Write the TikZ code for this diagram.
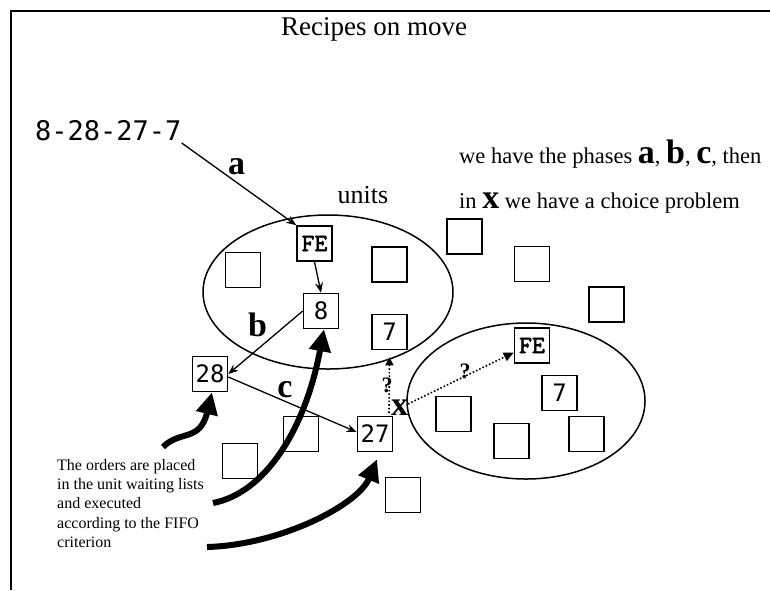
\documentclass[tikz,border=0pt]{standalone}
\usepackage{fontspec}
\setmainfont{Liberation Serif}
\newfontfamily\djmono{DejaVu Sans Mono}
\newfontfamily\fefont{Latin Modern Mono}[FakeBold=2.5]
\usetikzlibrary{arrows.meta,shapes.geometric}
\begin{document}
\begin{tikzpicture}[x=1pt,y=-1pt,
  ubox/.style={draw, line width=1.6pt, minimum size=35pt, inner sep=0pt, font=\djmono\fontsize{24}{24}\selectfont},
  febox/.style={ubox, font=\fefont\fontsize{25}{25}\selectfont},
  unit/.style={draw, ellipse, line width=1.5pt, inner sep=0pt},
  thinarr/.style={line width=1.3pt, -{Stealth[length=10pt,width=8pt]}},
  dotarr/.style={dash pattern=on 1.6pt off 2pt, line width=1.6pt, -{Triangle[length=10pt,width=9pt]}},
  bigarr/.style={line width=6pt, -{Triangle[length=22pt,width=21pt]}},
  lbl/.style={font=\bfseries\fontsize{34}{34}\selectfont, inner sep=0pt, anchor=base},
  qlbl/.style={font=\bfseries\fontsize{22}{22}\selectfont, inner sep=0pt, anchor=base},
  txt/.style={font=\fontsize{22.5}{27}\selectfont, inner sep=0pt, anchor=base west},
]
\useasboundingbox (0,0) rectangle (770,590);
\draw[line width=2.2pt] (11,590) -- (11,11) -- (770,11);

% title and texts
\node[font=\fontsize{27}{30}\selectfont, inner sep=0pt, anchor=base] (title) at (374,35) {Recipes on move};
\node[font=\djmono\fontsize{27}{27}\selectfont, inner sep=0pt, anchor=base west] (seq) at (35,140) {8-28-27-7};
\node[font=\fontsize{26}{30}\selectfont, inner sep=0pt, anchor=base] (units) at (363,203) {units};
\node[txt] (t1) at (459,163) {we have the phases {\fontsize{34}{34}\selectfont\bfseries a}, {\fontsize{34}{34}\selectfont\bfseries b}, {\fontsize{34}{34}\selectfont\bfseries c}, then};
\node[txt] (t2) at (459,208) {in {\fontsize{34}{34}\selectfont\bfseries x} we have a choice problem};
\node[font=\fontsize{16}{19.3}\selectfont, inner sep=0pt, anchor=north west, align=left] (note) at (57,459)
  {The orders are placed\\in the unit waiting lists\\and executed\\according to the FIFO\\criterion};

% units (ellipses)
\node[unit, minimum width=250pt, minimum height=154pt] (u1) at (328,292) {};
\node[unit, minimum width=238pt, minimum height=156pt] (u2) at (526,401) {};

% boxes
\node[febox] (fe1) at (314.5,243.5) {FE};
\node[ubox] (e1) at (243,270) {};
\node[ubox] (e2) at (389.5,264.5) {};
\node[ubox] (n8) at (321,311) {8};
\node[ubox] (n7a) at (389.5,332) {7};
\node[ubox] (n28) at (210,374) {28};
\node[ubox] (n27) at (375,434) {27};
\node[ubox] (e3) at (301,434) {};
\node[ubox] (e4) at (240,461) {};
\node[ubox] (e5) at (403,495) {};
\node[ubox] (e6) at (464.5,236.5) {};
\node[ubox] (e7) at (532,264) {};
\node[ubox] (e8) at (606.5,304.5) {};
\node[febox] (fe2) at (532,345.5) {FE};
\node[ubox] (n7b) at (559.5,393) {7};
\node[ubox] (e9) at (453.5,414) {};
\node[ubox] (e10) at (511.5,441) {};
\node[ubox] (e11) at (586.5,434) {};

% labels
\node[lbl] (la) at (236.5,174) {a};
\node[lbl] (lb) at (257.5,336) {b};
\node[lbl] (lc) at (285,397) {c};
\node[lbl] (lx) at (399.5,415) {x};
\node[qlbl] (q1) at (387,392) {?};
\node[qlbl] (q2) at (465,378) {?};

% thin arrows
\draw[thinarr] ([yshift=-3pt]seq.base east) -- (fe1.north west);
\draw[thinarr] (fe1.south) -- (n8.north);
\draw[thinarr] (n8.west) -- (n28.east);
\draw[thinarr] ([yshift=-3pt]n28.east) -- ([yshift=2pt]n27.west);

% dotted choice arrows
\coordinate (xv) at (389,413);
\coordinate (xd) at (408,404);
\draw[dotarr, -{Triangle[length=8pt,width=8pt]}] (xv) -- ([yshift=-7pt]n7a.south);
\draw[dotarr] (xd) -- ([yshift=-7pt]fe2.west);

% thick arrows
\coordinate (s1) at (163,447);
\coordinate (s2) at (213,503);
\coordinate (s3) at (207,547);
\draw[bigarr] (s1) .. controls (180,430) and (200,442) .. ([xshift=2pt]n28.south);
\draw[bigarr] (s2) .. controls (265,493) and (305,430) .. ([xshift=3pt]n8.south);
\draw[bigarr] (s3) .. controls (280,545) and (358,505) .. ([xshift=2pt,yshift=-7pt]n27.south);
\end{tikzpicture}
\end{document}
